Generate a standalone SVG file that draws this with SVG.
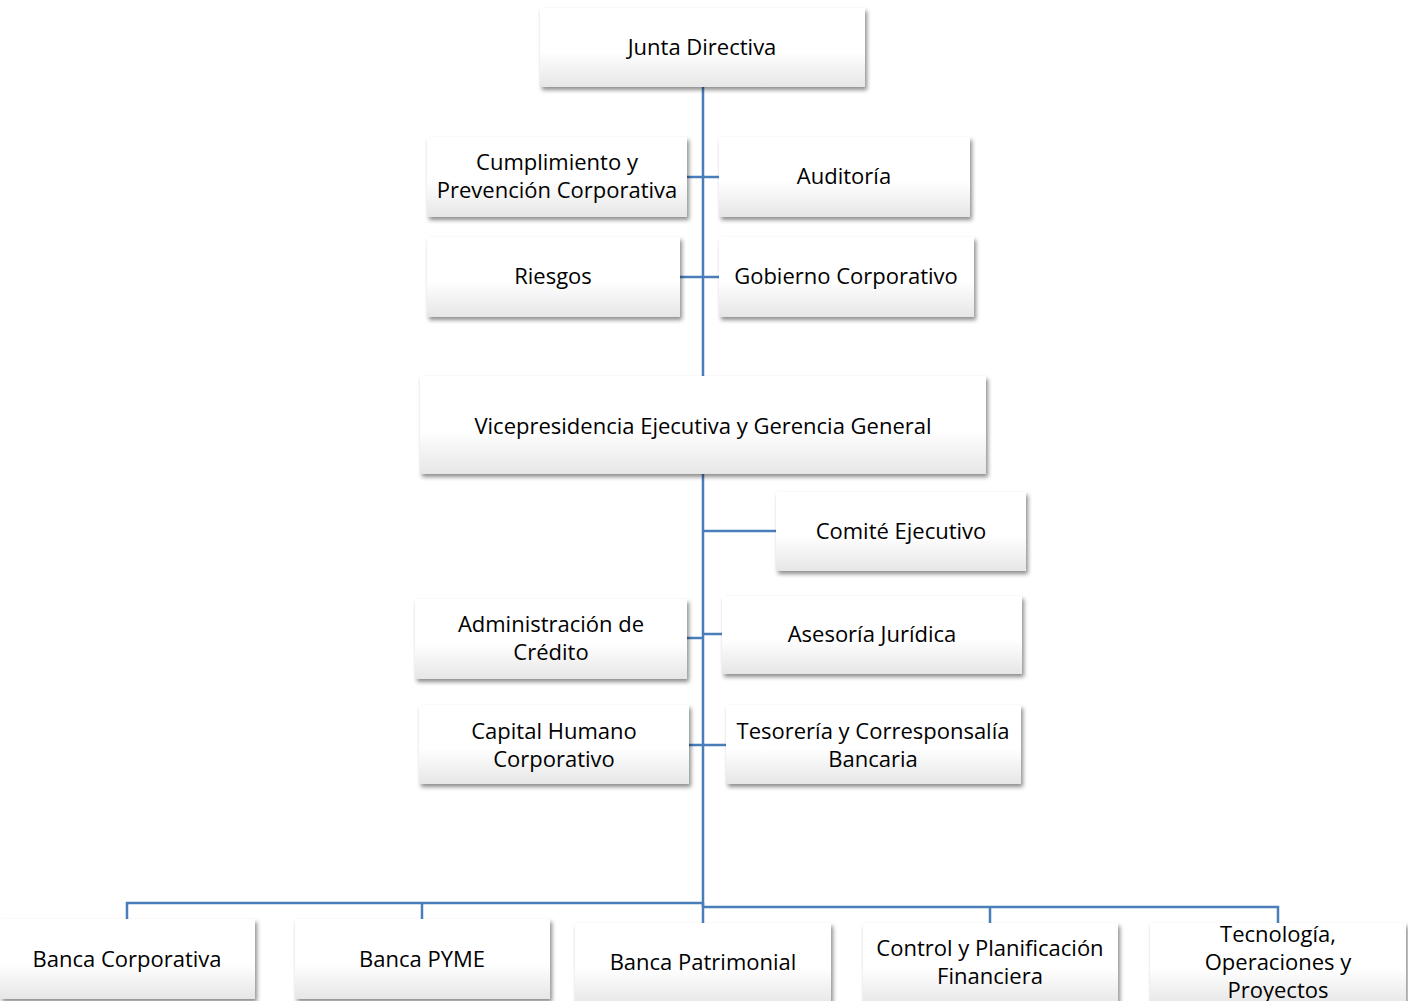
<svg xmlns="http://www.w3.org/2000/svg" width="1408" height="1001" viewBox="0 0 1408 1001">
<defs>
<linearGradient id="g" x1="0" y1="0" x2="0" y2="1">
<stop offset="0" stop-color="#ffffff"/>
<stop offset="0.55" stop-color="#ffffff"/>
<stop offset="1" stop-color="#e6e6e6"/>
</linearGradient>
<filter id="sh" x="-10%" y="-10%" width="125%" height="130%">
<feDropShadow dx="2" dy="3" stdDeviation="2" flood-color="#000" flood-opacity="0.45"/>
</filter>
</defs>
<style>
.box{fill:url(#g);filter:url(#sh);}
.t{font-family:"Open Sans","Liberation Sans",sans-serif;font-size:22px;fill:#000;text-anchor:middle;dominant-baseline:central;}
.c{stroke:#4a7ebb;stroke-width:2.5;fill:none;}
</style>
<rect width="1408" height="1001" fill="#fff"/>
<g id="connectors">
<path class="c" d="M703 87 V376"/>
<path class="c" d="M687 177 H719"/>
<path class="c" d="M680 277 H719"/>
<path class="c" d="M703 474 V907"/>
<path class="c" d="M703 531 H776"/>
<path class="c" d="M687 638 H703"/>
<path class="c" d="M703 634 H722"/>
<path class="c" d="M689 745 H726"/>
<path class="c" d="M127 919 V903 H703"/>
<path class="c" d="M422 903 V919"/>
<path class="c" d="M703 903 V923"/>
<path class="c" d="M703 907 H1278 V923"/>
<path class="c" d="M990 907 V923"/>
</g>
<g id="junta"><rect class="box" x="540" y="8" width="325" height="79"/><text class="t" x="702" y="46">Junta Directiva</text></g>
<g id="cumplimiento"><rect class="box" x="427" y="137" width="260" height="80"/><text class="t" x="557" y="161">Cumplimiento y</text><text class="t" x="557" y="189">Prevención Corporativa</text></g>
<g id="auditoria"><rect class="box" x="719" y="137" width="251" height="80"/><text class="t" x="844" y="175">Auditoría</text></g>
<g id="riesgos"><rect class="box" x="427" y="237" width="253" height="80"/><text class="t" x="553" y="275">Riesgos</text></g>
<g id="gobierno"><rect class="box" x="719" y="237" width="255" height="80"/><text class="t" x="846" y="275">Gobierno Corporativo</text></g>
<g id="vicepresidencia"><rect class="box" x="420" y="376" width="566" height="98"/><text class="t" x="703" y="425">Vicepresidencia Ejecutiva y Gerencia General</text></g>
<g id="comite"><rect class="box" x="776" y="492" width="250" height="79"/><text class="t" x="901" y="530">Comité Ejecutivo</text></g>
<g id="admin-credito"><rect class="box" x="415" y="599" width="272" height="80"/><text class="t" x="551" y="623">Administración de</text><text class="t" x="551" y="651">Crédito</text></g>
<g id="asesoria"><rect class="box" x="722" y="596" width="300" height="78"/><text class="t" x="872" y="633">Asesoría Jurídica</text></g>
<g id="capital-humano"><rect class="box" x="419" y="705" width="270" height="79"/><text class="t" x="554" y="730">Capital Humano</text><text class="t" x="554" y="758">Corporativo</text></g>
<g id="tesoreria"><rect class="box" x="726" y="705" width="295" height="79"/><text class="t" x="873" y="730">Tesorería y Corresponsalía</text><text class="t" x="873" y="758">Bancaria</text></g>
<g id="banca-corporativa"><rect class="box" x="0" y="919" width="255" height="80"/><text class="t" x="127" y="958">Banca Corporativa</text></g>
<g id="banca-pyme"><rect class="box" x="295" y="919" width="255" height="80"/><text class="t" x="422" y="958">Banca PYME</text></g>
<g id="banca-patrimonial"><rect class="box" x="575" y="923" width="256" height="82"/><text class="t" x="703" y="961">Banca Patrimonial</text></g>
<g id="control"><rect class="box" x="863" y="923" width="255" height="82"/><text class="t" x="990" y="947">Control y Planificación</text><text class="t" x="990" y="975">Financiera</text></g>
<g id="tecnologia"><rect class="box" x="1150" y="923" width="256" height="82"/><text class="t" x="1278" y="933">Tecnología,</text><text class="t" x="1278" y="961">Operaciones y</text><text class="t" x="1278" y="989">Proyectos</text></g>
</svg>
